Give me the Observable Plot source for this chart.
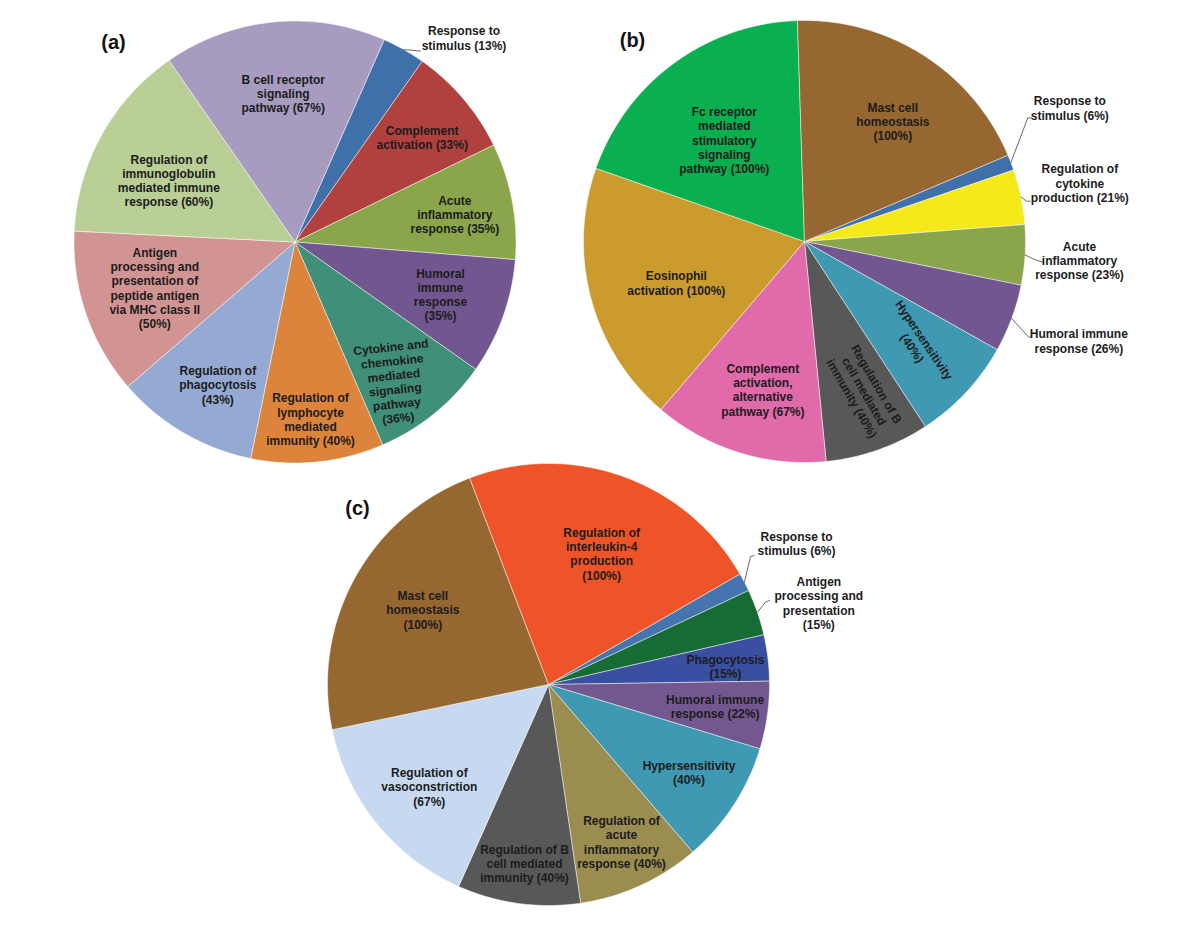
<!DOCTYPE html>
<html>
<head>
<meta charset="utf-8">
<script src="https://cdn.jsdelivr.net/npm/d3@7"></script>
<script src="https://cdn.jsdelivr.net/npm/@observablehq/plot@0.6"></script>
<style>
  html, body { margin: 0; padding: 0; background: #fff; }
  #chart { width: 1200px; height: 927px; }
</style>
</head>
<body>
<div id="chart"></div>
<script>
// ---------------- DATA ----------------
// (a)
const catsA = ["Response to stimulus", "Complement activation", "Acute inflammatory response",
  "Humoral immune response", "Cytokine and chemokine mediated signaling pathway",
  "Regulation of lymphocyte mediated immunity", "Regulation of phagocytosis",
  "Antigen processing and presentation of peptide antigen via MHC class II",
  "Regulation of immunoglobulin mediated immune response", "B cell receptor signaling pathway"];
const valsA = [13, 33, 35, 35, 36, 40, 43, 50, 60, 67];
const labelsA = ["Response to\nstimulus (13%)", "Complement\nactivation (33%)", "Acute\ninflammatory\nresponse (35%)",
  "Humoral\nimmune\nresponse\n(35%)", "Cytokine and\nchemokine\nmediated\nsignaling\npathway\n(36%)",
  "Regulation of\nlymphocyte\nmediated\nimmunity (40%)", "Regulation of\nphagocytosis\n(43%)",
  "Antigen\nprocessing and\npresentation of\npeptide antigen\nvia MHC class II\n(50%)",
  "Regulation of\nimmunoglobulin\nmediated immune\nresponse (60%)", "B cell receptor\nsignaling\npathway (67%)"];
const colorsA = ["#4070AA", "#B1413F", "#8BA54B", "#72568F", "#3F8F79", "#DC843B", "#94AAD2", "#D29493", "#B9CF96", "#A79BBF"];

// (b)
const catsB = ["Response to stimulus", "Regulation of cytokine production", "Acute inflammatory response",
  "Humoral immune response", "Hypersensitivity", "Regulation of B cell mediated immunity",
  "Complement activation, alternative pathway", "Eosinophil activation",
  "Fc receptor mediated stimulatory signaling pathway", "Mast cell homeostasis"];
const valsB = [6, 21, 23, 26, 40, 40, 67, 100, 100, 100];
const labelsB = ["Response to\nstimulus (6%)", "Regulation of\ncytokine\nproduction (21%)", "Acute\ninflammatory\nresponse (23%)",
  "Humoral immune\nresponse (26%)", "Hypersensitivity\n(40%)", "Regulation of B\ncell mediated\nimmunity (40%)",
  "Complement\nactivation,\nalternative\npathway (67%)", "Eosinophil\nactivation (100%)",
  "Fc receptor\nmediated\nstimulatory\nsignaling\npathway (100%)", "Mast cell\nhomeostasis\n(100%)"];
const colorsB = ["#4070AA", "#F4E919", "#8BA54B", "#72568F", "#3F99B2", "#585858", "#E06AAA", "#CB9B2E", "#0AAF4F", "#976731"];

// (c)
const catsC = ["Response to stimulus", "Antigen processing and presentation", "Phagocytosis",
  "Humoral immune response", "Hypersensitivity", "Regulation of acute inflammatory response",
  "Regulation of B cell mediated immunity", "Regulation of vasoconstriction",
  "Mast cell homeostasis", "Regulation of interleukin-4 production"];
const valsC = [6, 15, 15, 22, 40, 40, 40, 67, 100, 100];
const labelsC = ["Response to\nstimulus (6%)", "Antigen\nprocessing and\npresentation\n(15%)", "Phagocytosis\n(15%)",
  "Humoral immune\nresponse (22%)", "Hypersensitivity\n(40%)", "Regulation of\nacute\ninflammatory\nresponse (40%)",
  "Regulation of B\ncell mediated\nimmunity (40%)", "Regulation of\nvasoconstriction\n(67%)",
  "Mast cell\nhomeostasis\n(100%)", "Regulation of\ninterleukin-4\nproduction\n(100%)"];
const colorsC = ["#4574AE", "#176B35", "#3B4FA1", "#73578F", "#3F99B2", "#9B8C50", "#585858", "#C6D9F0", "#976731", "#EE5427"];

const panelTags = ["(a)", "(b)", "(c)"];

// ---------------- LAYOUT ----------------
const layout = [
  {cx: 294.5, cy: 241.5, r: 221, start: 23.8, tag: [113, 42],
   lab: [[169, -204], [127.2, -104.3], [159.8, -27.7], [145.5, 52.4], [99.5, 140.2],
         [15.5, 177.2], [-77.2, 142.7], [-140.2, 46], [-126.2, -61.5], [-11.8, -148.7]],
   rot: {4: -6},
   leaders: {0: [[125.5, -191]]}},
  {cx: 804, cy: 241, r: 221, start: 67, tag: [632, 40],
   lab: [[265.3, -133.5], [275.3, -58.4], [275, 19], [274.3, 99.3], [114, 102.4],
         [60, 149.6], [-41.7, 148.2], [-128.2, 41.5], [-80.2, -101.3], [88.3, -120]],
   rot: {4: 56, 5: 60},
   leaders: {0: [[223.3, -123.7], [227, -123.7]], 1: [[222, -40.3], [225.5, -40.3]],
             2: [[230, 18], [239, 21]], 3: [[224.3, 95.7], [227, 95.7]]}},
  {cx: 548, cy: 684, r: 221, start: 60, tag: [357, 508],
   lab: [[248, -141.1], [270.3, -81.7], [177, -18.2], [166.6, 22.2], [140.5, 88],
         [73, 157.3], [-24, 178.8], [-119.2, 102.3], [-125.7, -74.8], [53.2, -130.8]],
   rot: {},
   leaders: {0: [[202, -128], [205.5, -129]], 1: [[217, -82.3], [221, -84]]}}
];

const pieData = [
  {cats: catsA, vals: valsA, labels: labelsA, colors: colorsA},
  {cats: catsB, vals: valsB, labels: labelsB, colors: colorsB},
  {cats: catsC, vals: valsC, labels: labelsC, colors: colorsC}
];

// ---------------- BUILD ----------------
const rad = Math.PI / 180;
const slicePts = [];
const leaderPts = [];
const labelRows = [];
const tagRows = [];

pieData.forEach((p, k) => {
  const L = layout[k];
  const total = d3.sum(p.vals);
  let a0 = L.start;
  const pt = (ang, rr) => [L.cx + rr * Math.sin(ang * rad), L.cy - rr * Math.cos(ang * rad)];
  p.vals.forEach((v, i) => {
    const a1 = a0 + v / total * 360;
    const key = k + "-" + i;
    const col = p.colors[i];
    slicePts.push({key, x: L.cx, y: L.cy, fill: col, cat: p.cats[i]});
    const n = Math.max(2, Math.ceil(a1 - a0));
    for (let j = 0; j <= n; j++) {
      const [x, y] = pt(a0 + (a1 - a0) * j / n, L.r);
      slicePts.push({key, x, y, fill: col, cat: p.cats[i]});
    }
    slicePts.push({key, x: L.cx, y: L.cy, fill: col, cat: p.cats[i]});
    if (L.leaders[i]) {
      const [ex, ey] = pt((a0 + a1) / 2, L.r);
      leaderPts.push({key, x: ex, y: ey});
      L.leaders[i].forEach(([dx, dy]) => leaderPts.push({key, x: L.cx + dx, y: L.cy + dy}));
    }
    labelRows.push({x: L.cx + L.lab[i][0], y: L.cy + L.lab[i][1], text: p.labels[i], rotate: L.rot[i] || 0});
    a0 = a1;
  });
  tagRows.push({x: L.tag[0], y: L.tag[1], text: panelTags[k]});
});

const font = "'Liberation Sans', Arial, Helvetica, sans-serif";

const chart = Plot.plot({
  width: 1200,
  height: 927,
  margin: 0,
  style: {background: "#fff", fontFamily: font},
  x: {domain: [0, 1200], range: [0, 1200], axis: null},
  y: {domain: [0, 927], range: [0, 927], axis: null},
  color: {type: "identity"},
  marks: [
    Plot.line(slicePts, {x: "x", y: "y", z: "key", fill: "fill", stroke: "#ffffff",
      strokeWidth: 0.6, strokeOpacity: 0.8, strokeLinejoin: "miter", curve: "linear"}),
    Plot.line(leaderPts, {x: "x", y: "y", z: "key", stroke: "#444", strokeWidth: 0.8, curve: "linear"}),
    Plot.text(labelRows, {x: "x", y: "y", text: "text", rotate: "rotate", fontSize: 12,
      fontWeight: "bold", fill: "#1c1c1c", lineHeight: 1.19, fontFamily: font}),
    Plot.text(tagRows, {x: "x", y: "y", text: "text", fontSize: 20, fontWeight: "bold",
      fill: "#111", fontFamily: font})
  ]
});
document.getElementById("chart").appendChild(chart);
</script>
</body>
</html>
